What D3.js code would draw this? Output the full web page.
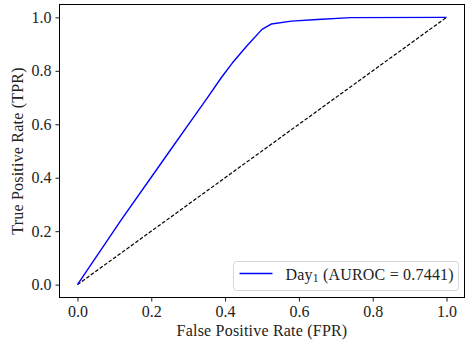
<!DOCTYPE html>
<html>
<head>
<meta charset="utf-8">
<script src="https://cdn.jsdelivr.net/npm/d3@7"></script>
<style>
  body { margin: 0; background: #fff; }
  svg text { font-family: "Liberation Serif", "DejaVu Serif", serif; fill: #222; }
</style>
</head>
<body>
<svg id="chart"></svg>
<script>
// ROC curve values
const fpr = [0, 0.12, 0.25, 0.30, 0.35, 0.39, 0.42, 0.46, 0.50, 0.525, 0.58, 0.65, 0.74, 1.0];
const tpr = [0, 0.245, 0.50, 0.598, 0.695, 0.775, 0.83, 0.895, 0.955, 0.975, 0.986, 0.992, 0.999, 1.0];
const chanceLine = [0, 1];
const xTicks = [0, 0.2, 0.4, 0.6, 0.8, 1.0];
const yTicks = [0, 0.2, 0.4, 0.6, 0.8, 1.0];
const seriesName = "Day";
const seriesSub = "1";
const aurocLabel = " (AUROC = 0.7441)";

const config = {
  width: 471,
  height: 341,
  margin: {top: 4, right: 6, bottom: 43, left: 59},
  fontSize: 16
};

const w = config.width - config.margin.left - config.margin.right;
const h = config.height - config.margin.top - config.margin.bottom;

const svg = d3.select('#chart')
  .attr('width', config.width)
  .attr('height', config.height);

const g = svg.append('g')
  .attr('transform', `translate(${config.margin.left},${config.margin.top})`);

// matplotlib-style 5% padding around [0,1]
const x = d3.scaleLinear().domain([-0.05, 1.05]).range([0, w]);
const y = d3.scaleLinear().domain([-0.05, 1.05]).range([h, 0]);

const line = d3.line()
  .x(d => x(d[0]))
  .y(d => y(d[1]));

// chance diagonal
g.append('path')
  .datum(chanceLine.map(v => [v, v]))
  .attr('d', line)
  .attr('fill', 'none')
  .attr('stroke', '#000')
  .attr('stroke-width', 1.2)
  .attr('stroke-dasharray', '3.7,1.8');

// ROC curve
g.append('path')
  .datum(fpr.map((v, i) => [v, tpr[i]]))
  .attr('d', line)
  .attr('fill', 'none')
  .attr('stroke', '#0000ff')
  .attr('stroke-width', 1.4)
  .attr('stroke-linejoin', 'round');

// axes
const xAxis = g.append('g')
  .attr('transform', `translate(0,${h})`)
  .call(d3.axisBottom(x).tickValues(xTicks).tickFormat(d3.format('.1f')).tickSize(3.5).tickPadding(4));
const yAxis = g.append('g')
  .call(d3.axisLeft(y).tickValues(yTicks).tickFormat(d3.format('.1f')).tickSize(3.5).tickPadding(4));

[xAxis, yAxis].forEach(a => {
  a.select('.domain').remove();
  a.selectAll('line').attr('stroke', '#000').attr('stroke-width', 0.9);
  a.selectAll('text').attr('font-size', config.fontSize).style('font-family', '"Liberation Serif", serif').attr('fill', '#222');
});

// frame
g.append('rect')
  .attr('x', 0.5).attr('y', 0.5)
  .attr('width', w - 1).attr('height', h - 1)
  .attr('fill', 'none')
  .attr('stroke', '#000')
  .attr('stroke-width', 1);

// axis titles
g.append('text')
  .attr('x', w / 2)
  .attr('y', h + 38)
  .attr('text-anchor', 'middle')
  .attr('font-size', config.fontSize)
  .attr('letter-spacing', 0.2)
  .text('False Positive Rate (FPR)');

g.append('text')
  .attr('transform', `translate(${-36},${h / 2}) rotate(-90)`)
  .attr('text-anchor', 'middle')
  .attr('font-size', config.fontSize)
  .attr('letter-spacing', 0.2)
  .text('True Positive Rate (TPR)');

// legend
const legend = g.append('g')
  .attr('transform', `translate(${233.5 - config.margin.left},${261.5 - config.margin.top})`);

legend.append('rect')
  .attr('width', 225).attr('height', 29)
  .attr('rx', 3)
  .attr('fill', '#fff').attr('fill-opacity', 0.8)
  .attr('stroke', '#d6d6d6').attr('stroke-width', 1);

legend.append('line')
  .attr('x1', 6).attr('x2', 39)
  .attr('y1', 12).attr('y2', 12)
  .attr('stroke', '#0000ff').attr('stroke-width', 1.4);

const lt = legend.append('text')
  .attr('x', 52).attr('y', 18)
  .attr('font-size', config.fontSize)
  .attr('letter-spacing', 0.2);
lt.append('tspan').text(seriesName);
lt.append('tspan').attr('font-size', 11.5).attr('dy', 2.5).text(seriesSub);
lt.append('tspan').attr('dy', -2.5).text(aurocLabel);
</script>
</body>
</html>
